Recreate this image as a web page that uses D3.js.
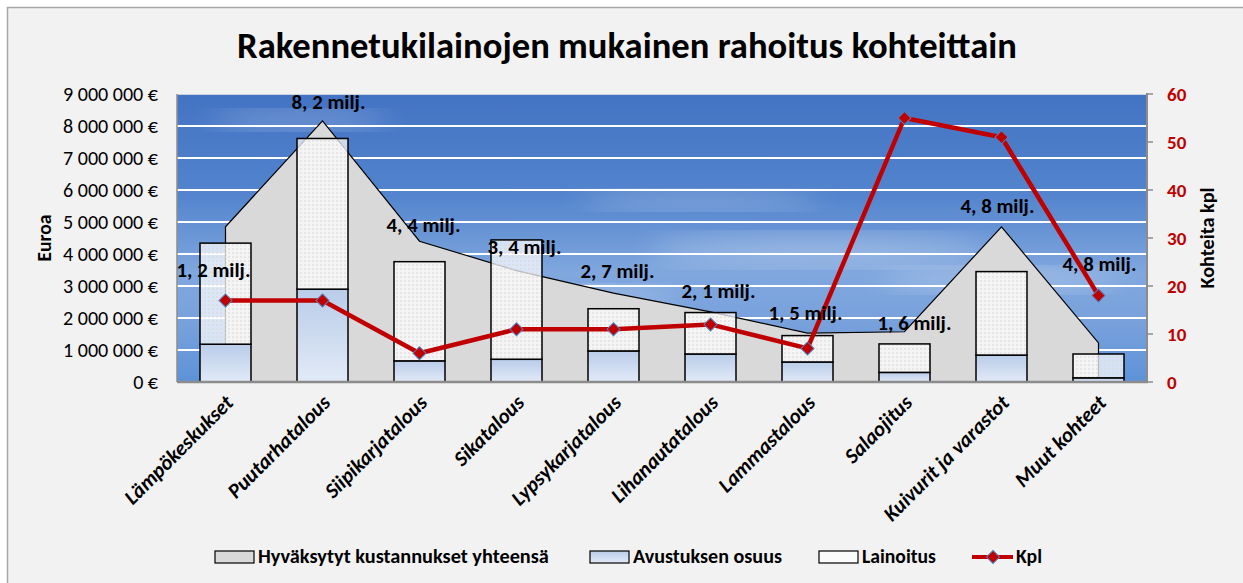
<!DOCTYPE html>
<html>
<head>
<meta charset="utf-8">
<script src="https://cdn.jsdelivr.net/npm/d3@7"></script>
<style>
  body { margin: 0; background: #fff; }
  svg { display: block; font-family: Carlito, Calibri, Lato, sans-serif; }
</style>
</head>
<body>
<script>
// categories and series (euros / count)
var categories = ["Lämpökeskukset", "Puutarhatalous", "Siipikarjatalous", "Sikatalous",
  "Lypsykarjatalous", "Lihanautatalous", "Lammastalous", "Salaojitus",
  "Kuivurit ja varastot", "Muut kohteet"]
var totalCost = [4850000, 8160000, 4400000, 3480000, 2780000, 2190000, 1530000, 1570000, 4850000, 1220000]
var avustus   = [1180000, 2900000, 660000, 710000, 970000, 875000, 625000, 300000, 840000, 130000]
var lainoitus = [3160000, 4710000, 3100000, 3730000, 1320000, 1295000, 825000, 890000, 2610000, 745000]
var kpl       = [17, 17, 6, 11, 11, 12, 7, 55, 51, 18]
var labels    = ["1, 2 milj.", "8, 2 milj.", "4, 4 milj.", "3, 4 milj.", "2, 7 milj.",
  "2, 1 milj.", "1, 5 milj.", "1, 6 milj.", "4, 8 milj.", "4, 8 milj."]
var leftTicks  = d3.range(0, 9000001, 1000000)
var rightTicks = [0, 10, 20, 30, 40, 50, 60]
var seriesNames = ["Hyväksytyt kustannukset yhteensä", "Avustuksen osuus", "Lainoitus", "Kpl"]

// label nudges (px) where Excel placed them away from the point
var labelDx = [-12, 6, 4, 8, 4, 8, -2, 10, -4, 1]
var labelDy = [50, -12, -9, -17, -15, -14, -13, -2, -14, -72]

var W = 1243, H = 583
var pL = 177, pR = 1147, pT = 94, pB = 382

var svg = d3.select("body").append("svg").attr("width", W).attr("height", H)
var defs = svg.append("defs")

function fit(sel, w) {
  sel.each(function () {
    var len = this.getComputedTextLength()
    var fs = parseFloat(d3.select(this).style("font-size"))
    d3.select(this).style("font-size", (fs * w / len) + "px")
  })
}

// gradients / patterns
var sky = defs.append("linearGradient").attr("id", "sky").attr("x1", 0).attr("y1", 0).attr("x2", 0).attr("y2", 1)
sky.append("stop").attr("offset", "0%").attr("stop-color", "#4373c3")
sky.append("stop").attr("offset", "35%").attr("stop-color", "#5384cd")
sky.append("stop").attr("offset", "62%").attr("stop-color", "#80a7de")
sky.append("stop").attr("offset", "80%").attr("stop-color", "#78a1dc")
sky.append("stop").attr("offset", "100%").attr("stop-color", "#5d92d8")

var av = defs.append("linearGradient").attr("id", "av").attr("x1", 0).attr("y1", 0).attr("x2", 0).attr("y2", 1)
av.append("stop").attr("offset", "0%").attr("stop-color", "#b9cce9")
av.append("stop").attr("offset", "100%").attr("stop-color", "#e2eaf7")

var pat = defs.append("pattern").attr("id", "dots").attr("width", 4).attr("height", 4)
  .attr("patternUnits", "userSpaceOnUse")
pat.append("rect").attr("width", 4).attr("height", 4).attr("fill", "#fff").attr("fill-opacity", 0.72)
pat.append("rect").attr("width", 2).attr("height", 2).attr("fill", "#d8d8d8").attr("fill-opacity", 0.55)

defs.append("filter").attr("id", "blur").append("feGaussianBlur").attr("stdDeviation", 14)
defs.append("clipPath").attr("id", "plotclip").append("rect")
  .attr("x", pL).attr("y", pT).attr("width", pR - pL).attr("height", pB - pT)

// chart background
svg.append("rect").attr("x", 7.5).attr("y", 7.5).attr("width", W + 20).attr("height", H + 20)
  .attr("fill", "#f2f2f2").attr("stroke", "#a6a6a6").attr("stroke-width", 1.5)

var x = d3.scaleBand().domain(categories).range([pL, pR]).padding(0)
var y = d3.scaleLinear().domain([0, 9000000]).range([pB, pT])
var y2 = d3.scaleLinear().domain([0, 60]).range([pB, pT])
var bw = 51

// plot area
var plot = svg.append("g").attr("clip-path", "url(#plotclip)")
plot.append("rect").attr("x", pL).attr("y", pT).attr("width", pR - pL).attr("height", pB - pT)
  .attr("fill", "url(#sky)")
var clouds = [[300, 120, 90, 10], [520, 300, 160, 14], [820, 250, 170, 16], [1000, 280, 120, 12], [700, 200, 120, 10]]
plot.selectAll("ellipse").data(clouds).enter().append("ellipse")
  .attr("cx", function (d) { return d[0] }).attr("cy", function (d) { return d[1] })
  .attr("rx", function (d) { return d[2] }).attr("ry", function (d) { return d[3] })
  .attr("fill", "#fff").attr("opacity", 0.28).attr("filter", "url(#blur)")

// gridlines
plot.selectAll("line.grid").data(leftTicks.slice(1)).enter().append("line")
  .attr("class", "grid")
  .attr("x1", pL).attr("x2", pR)
  .attr("y1", function (d) { return y(d) }).attr("y2", function (d) { return y(d) })
  .attr("stroke", function (d) { return d == 9000000 ? "#c9d3e0" : "#ffffff" })
  .attr("stroke-width", 2)

// area of total approved costs
var cx = function (i) { return x(categories[i]) + x.bandwidth() / 2 }
var area = d3.area().x(function (d, i) { return cx(i) }).y0(pB).y1(function (d) { return y(d) })
plot.append("path").datum(totalCost).attr("d", area).attr("fill", "#d9d9d9")
var outline = [[cx(0), pB]].concat(totalCost.map(function (d, i) { return [cx(i), y(d)] }))
  .concat([[cx(totalCost.length - 1), pB]])
plot.append("path").attr("d", d3.line()(outline)).attr("fill", "none").attr("stroke", "#000").attr("stroke-width", 1.2)

// stacked bars
var bars = plot.append("g")
bars.selectAll("rect.av").data(avustus).enter().append("rect")
  .attr("x", function (d, i) { return cx(i) - bw / 2 }).attr("width", bw)
  .attr("y", function (d) { return y(d) }).attr("height", function (d) { return pB - y(d) })
  .attr("fill", "url(#av)").attr("stroke", "#000").attr("stroke-width", 1.5)
bars.selectAll("rect.la").data(lainoitus).enter().append("rect")
  .attr("x", function (d, i) { return cx(i) - bw / 2 }).attr("width", bw)
  .attr("y", function (d, i) { return y(d + avustus[i]) })
  .attr("height", function (d, i) { return y(avustus[i]) - y(d + avustus[i]) })
  .attr("fill", "url(#dots)").attr("stroke", "#000").attr("stroke-width", 1.5)

// axes lines
svg.append("line").attr("x1", pL).attr("x2", pL).attr("y1", pT).attr("y2", pB)
  .attr("stroke", "#8c8c8c").attr("stroke-width", 1.5)
svg.append("line").attr("x1", pL).attr("x2", pR + 1).attr("y1", pB).attr("y2", pB)
  .attr("stroke", "#8c8c8c").attr("stroke-width", 2.5)
svg.append("line").attr("x1", pR).attr("x2", pR).attr("y1", pT - 1).attr("y2", pB)
  .attr("stroke", "#8c8c8c").attr("stroke-width", 2)
svg.selectAll("line.rtick").data(rightTicks).enter().append("line")
  .attr("x1", pR).attr("x2", pR + 6)
  .attr("y1", function (d) { return y2(d) }).attr("y2", function (d) { return y2(d) })
  .attr("stroke", "#8c8c8c").attr("stroke-width", 1.5)

// Kpl line
var line = d3.line().x(function (d, i) { return cx(i) }).y(function (d) { return y2(d) })
svg.append("path").datum(kpl).attr("d", line).attr("fill", "none")
  .attr("stroke", "#c00000").attr("stroke-width", 4.5).attr("stroke-linejoin", "round")
var sym = d3.symbol().type(d3.symbolSquare).size(85)
svg.selectAll("path.mk").data(kpl).enter().append("path")
  .attr("d", sym)
  .attr("transform", function (d, i) { return "translate(" + cx(i) + "," + y2(d) + ") rotate(45)" })
  .attr("fill", "#c00000").attr("stroke", "#4f81bd").attr("stroke-width", 1)

// data labels
var dl = svg.selectAll("text.dl").data(labels).enter().append("text")
  .attr("x", function (d, i) { return cx(i) + labelDx[i] })
  .attr("y", function (d, i) { return y(totalCost[i]) + labelDy[i] })
  .attr("text-anchor", "middle").style("font-weight", "bold").style("font-size", "17px")
  .attr("fill", "#000").text(function (d) { return d })
var f0 = 74 / dl.node().getComputedTextLength()
dl.style("font-size", (17 * f0) + "px")

// left tick labels
var lt = svg.selectAll("text.lt").data(leftTicks).enter().append("text")
  .attr("x", 158).attr("y", function (d) { return y(d) }).attr("dy", "0.35em")
  .attr("text-anchor", "end").style("font-size", "16px").attr("fill", "#000")
  .text(function (d) { return d == 0 ? "0 €" : d3.format(",")(d).replace(/,/g, " ") + " €" })
var f1 = 95 / lt.filter(function (d) { return d == 9000000 }).node().getComputedTextLength()
lt.style("font-size", (16 * f1) + "px")

// right tick labels
svg.selectAll("text.rt").data(rightTicks).enter().append("text")
  .attr("x", 1167).attr("y", function (d) { return y2(d) }).attr("dy", "0.36em")
  .style("font-size", "19px").style("font-weight", "bold").attr("fill", "#c00000")
  .text(function (d) { return d })

// axis titles
var t1 = svg.append("text").attr("transform", "translate(51,238) rotate(-90)")
  .attr("text-anchor", "middle").style("font-weight", "bold").style("font-size", "17px").text("Euroa")
fit(t1, 47)
var t2 = svg.append("text").attr("transform", "translate(1214,238) rotate(-90)")
  .attr("text-anchor", "middle").style("font-weight", "bold").style("font-size", "17px").text("Kohteita kpl")
fit(t2, 101)

// category labels
var cl = svg.selectAll("text.cat").data(categories).enter().append("text")
  .attr("transform", function (d, i) { return "translate(" + (cx(i) + 9) + "," + 404 + ") rotate(-45)" })
  .attr("text-anchor", "end").style("font-weight", "bold").style("font-style", "italic")
  .style("font-size", "15px").text(function (d) { return d })
var f2 = 144 / cl.node().getComputedTextLength()
cl.style("font-size", (15 * f2) + "px")

// title
var title = svg.append("text").attr("x", 627).attr("y", 58).attr("text-anchor", "middle")
  .style("font-weight", "bold").style("font-size", "32px").text("Rakennetukilainojen mukainen rahoitus kohteittain")
fit(title, 780)

// legend
var lg = svg.append("g")
var legX = [215, 590, 819, 972]
var legW = [291, 149, 74, 26]
var fills = ["#d9d9d9", "url(#av)", "#fbfbfb"]
seriesNames.forEach(function (name, i) {
  if (i < 3) {
    lg.append("rect").attr("x", legX[i]).attr("y", 551).attr("width", 39).attr("height", 12)
      .attr("fill", fills[i]).attr("stroke", "#000").attr("stroke-width", 1.2)
  } else {
    lg.append("line").attr("x1", legX[i]).attr("x2", legX[i] + 41).attr("y1", 557).attr("y2", 557)
      .attr("stroke", "#c00000").attr("stroke-width", 4)
    lg.append("path").attr("d", sym).attr("transform", "translate(" + (legX[i] + 21) + ",557) rotate(45)")
      .attr("fill", "#c00000").attr("stroke", "#4f81bd")
  }
  var tx = lg.append("text").attr("x", legX[i] + (i < 3 ? 43 : 44)).attr("y", 563)
    .style("font-weight", "bold").style("font-size", "17px").text(name)
  fit(tx, legW[i])
})
</script>
</body>
</html>
